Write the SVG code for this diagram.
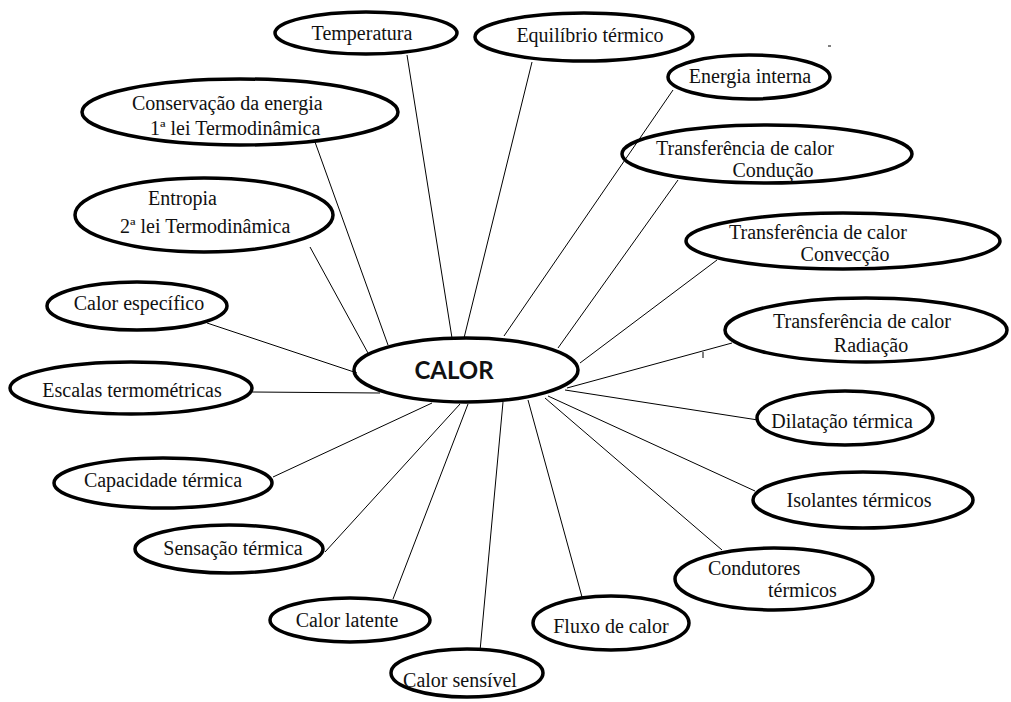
<svg xmlns="http://www.w3.org/2000/svg" width="1011" height="702" viewBox="0 0 1011 702">
  <style>
    .node ellipse { fill: none; stroke: #000; stroke-width: 3.5; }
    .node text { font-family: "Liberation Serif", "Times New Roman", serif; font-size: 20px; fill: #111; }
    .mid { text-anchor: middle; }
    #connectors line { stroke: #000; stroke-width: 1; }
    .hub text { font-family: Lato, "Liberation Sans", sans-serif; font-weight: bold; font-size: 24px; fill: #111; text-anchor: middle; }
  </style>
  <rect width="1011" height="702" fill="#fff"/>

  <!-- spokes from the central concept to each topic -->
  <g id="connectors">
    <line x1="407" y1="55" x2="452" y2="338"/>
    <line x1="532" y1="62" x2="464" y2="338"/>
    <line x1="673" y1="90" x2="504" y2="336"/>
    <line x1="678" y1="180" x2="558" y2="348"/>
    <line x1="717" y1="260" x2="580" y2="363"/>
    <line x1="732" y1="343" x2="567" y2="388"/>
    <line x1="703" y1="352" x2="703" y2="358"/>
    <line x1="565" y1="390" x2="758" y2="420"/>
    <line x1="548" y1="396" x2="755" y2="491"/>
    <line x1="545" y1="398" x2="722" y2="550"/>
    <line x1="528" y1="400" x2="582" y2="597"/>
    <line x1="503" y1="402" x2="480" y2="651"/>
    <line x1="468" y1="404" x2="393" y2="599"/>
    <line x1="460" y1="404" x2="325" y2="552"/>
    <line x1="432" y1="403" x2="273" y2="477"/>
    <line x1="252" y1="392" x2="380" y2="393"/>
    <line x1="207" y1="323" x2="357" y2="373"/>
    <line x1="310" y1="247" x2="368" y2="353"/>
    <line x1="315" y1="142" x2="388" y2="345"/>
    <line x1="828" y1="46" x2="831" y2="46"/>
  </g>

  <g id="calor" class="node hub">
    <ellipse cx="466" cy="370" rx="112" ry="32"/>
    <text x="454" y="379">CALOR</text>
  </g>

  <g id="temperatura" class="node">
    <ellipse cx="366" cy="33" rx="91" ry="21"/>
    <text class="mid" x="362" y="40">Temperatura</text>
  </g>

  <g id="equilibrio" class="node">
    <ellipse cx="584" cy="37" rx="109" ry="24"/>
    <text class="mid" x="590" y="42">Equilíbrio térmico</text>
  </g>

  <g id="energia-interna" class="node">
    <ellipse cx="749" cy="77" rx="81" ry="22"/>
    <text class="mid" x="750" y="83">Energia interna</text>
  </g>

  <g id="conducao" class="node">
    <ellipse cx="767" cy="154" rx="145" ry="29"/>
    <text class="mid" x="745" y="155">Transferência de calor</text>
    <text class="mid" x="773" y="177">Condução</text>
  </g>

  <g id="conveccao" class="node">
    <ellipse cx="843" cy="241" rx="157" ry="28"/>
    <text class="mid" x="818" y="239">Transferência de calor</text>
    <text class="mid" x="845" y="261">Convecção</text>
  </g>

  <g id="radiacao" class="node">
    <ellipse cx="866" cy="330" rx="141" ry="32"/>
    <text class="mid" x="862" y="328">Transferência de calor</text>
    <text class="mid" x="871" y="352">Radiação</text>
  </g>

  <g id="dilatacao" class="node">
    <ellipse cx="845" cy="418" rx="88" ry="27"/>
    <text class="mid" x="842" y="428">Dilatação térmica</text>
  </g>

  <g id="isolantes" class="node">
    <ellipse cx="863" cy="500" rx="110" ry="28"/>
    <text class="mid" x="859" y="507">Isolantes térmicos</text>
  </g>

  <g id="condutores" class="node">
    <ellipse cx="774" cy="579" rx="99" ry="31"/>
    <text x="708" y="575">Condutores</text>
    <text x="768" y="597">térmicos</text>
  </g>

  <g id="fluxo" class="node">
    <ellipse cx="611" cy="623" rx="78" ry="27"/>
    <text class="mid" x="611" y="633">Fluxo de calor</text>
  </g>

  <g id="calor-sensivel" class="node">
    <ellipse cx="467" cy="673" rx="76" ry="24"/>
    <text class="mid" x="460" y="687">Calor sensível</text>
  </g>

  <g id="calor-latente" class="node">
    <ellipse cx="350" cy="620" rx="80" ry="22"/>
    <text class="mid" x="347" y="627">Calor latente</text>
  </g>

  <g id="sensacao" class="node">
    <ellipse cx="229" cy="549" rx="94" ry="24"/>
    <text class="mid" x="233" y="555">Sensação térmica</text>
  </g>

  <g id="capacidade" class="node">
    <ellipse cx="163" cy="483" rx="109" ry="25"/>
    <text class="mid" x="163" y="487">Capacidade térmica</text>
  </g>

  <g id="escalas" class="node">
    <ellipse cx="131" cy="388" rx="121" ry="26"/>
    <text class="mid" x="132" y="397">Escalas termométricas</text>
  </g>

  <g id="calor-especifico" class="node">
    <ellipse cx="137" cy="306" rx="90" ry="24"/>
    <text class="mid" x="139" y="310">Calor específico</text>
  </g>

  <g id="entropia" class="node">
    <ellipse cx="204" cy="215" rx="129" ry="37"/>
    <text x="148" y="205">Entropia</text>
    <text x="120" y="233">2ª lei Termodinâmica</text>
  </g>

  <g id="conservacao" class="node">
    <ellipse cx="240" cy="112" rx="158" ry="33"/>
    <text x="132" y="110">Conservação da energia</text>
    <text x="150" y="135">1ª lei Termodinâmica</text>
  </g>
</svg>
